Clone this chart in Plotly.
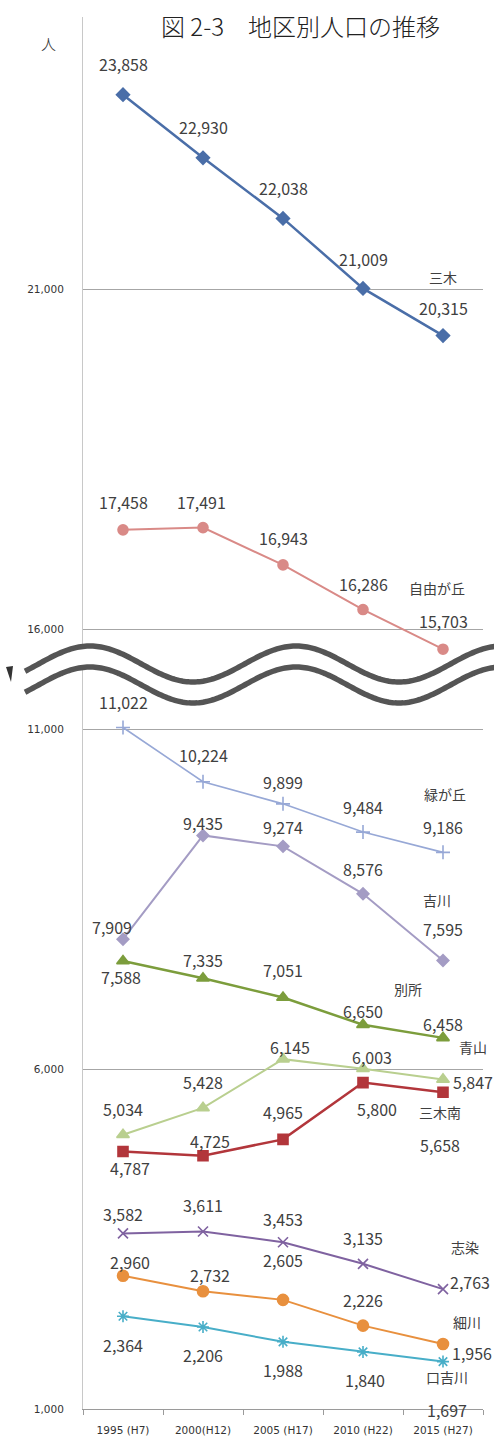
import math
import plotly.graph_objects as go

# ---------------- data ----------------
years = ["1995 (H7)", "2000(H12)", "2005 (H17)", "2010 (H22)", "2015 (H27)"]

miki = [23858, 22930, 22038, 21009, 20315]
jiyugaoka = [17458, 17491, 16943, 16286, 15703]
midorigaoka = [11022, 10224, 9899, 9484, 9186]
yokawa = [7909, 9435, 9274, 8576, 7595]
bessho = [7588, 7335, 7051, 6650, 6458]
aoyama = [5034, 5428, 6145, 6003, 5847]
mikiminami = [4787, 4725, 4965, 5800, 5658]
shijimi = [3582, 3611, 3453, 3135, 2763]
hosokawa = [2960, 2732, 2605, 2226, 1956]
kuchiyokawa = [2364, 2206, 1988, 1840, 1697]

# ---------------- styles ----------------
W, H = 494, 1436
ML, MR, MT, MB = 83, 11, 17, 27
PW, PH = W - ML - MR, H - MT - MB

series = [
    # name, values, axis, color, symbol, size, line width
    ("三木", miki, "y2", "#4A6EA8", "diamond", 10, 2.5),
    ("自由が丘", jiyugaoka, "y2", "#D98A87", "circle", 10, 2),
    ("緑が丘", midorigaoka, "y", "#97A8D6", "cross-thin", 10, 1.6),
    ("吉川", yokawa, "y", "#A49CC4", "diamond", 9, 2),
    ("別所", bessho, "y", "#7C9D3C", "triangle-up", 11, 2.5),
    ("青山", aoyama, "y", "#B9CF8F", "triangle-up", 11, 2),
    ("三木南", mikiminami, "y", "#B2363B", "square", 10, 2.5),
    ("志染", shijimi, "y", "#7F62A0", "x-thin", 10, 2),
    ("細川", hosokawa, "y", "#E8903E", "circle", 11, 2),
    ("口吉川", kuchiyokawa, "y", "#48AEC8", "asterisk", 10, 2),
]

label_offsets = {
    "三木": [(0, 31), (0, 31), (0, 30), (0, 29), (0, 28)],
    "自由が丘": [(0, 28), (-2, 26), (0, 27), (0, 26), (0, 28)],
    "緑が丘": [(0, 26), (0, 27), (0, 22), (0, 25), (0, 25)],
    "吉川": [(-11, 12), (0, 12), (0, 19), (0, 25), (0, 32)],
    "別所": [(-2, -16), (0, 18), (0, 28), (0, 14), (0, 14)],
    "青山": [(0, 26), (0, 26), (7, 12), (9, 12), (30, -3)],
    "三木南": [(7, -17), (7, 15), (0, 27), (14, -26), (-3, -53)],
    "志染": [(0, 19), (0, 26), (0, 23), (0, 26), (27, 7)],
    "細川": [(7, 14), (7, 16), (0, 40), (0, 26), (29, -9)],
    "口吉川": [(0, -29), (0, -28), (0, -28), (2, -28), (4, -48)],
}
name_offsets = {
    "三木": (0, 59), "自由が丘": (-6, 61), "緑が丘": (2, 58), "吉川": (-6, 61),
    "別所": (-35, 49), "青山": (30, 32), "三木南": (-3, -20), "志染": (22, 42),
    "細川": (24, 22), "口吉川": (4, -15),
}

LABEL_FONT = dict(family="Noto Sans CJK JP", size=16, color="#404040", weight=400)
NAME_FONT = dict(family="Noto Sans CJK JP", size=14, color="#404040", weight=400)
TICK_FONT = dict(family="DejaVu Sans", size=10.5, color="#333333")


def px(xp):
    return (xp - ML) / PW


def py(yp):
    return (MT + PH - yp) / PH


fig = go.Figure()
annotations = []
for name, vals, ax, color, sym, size, lw in series:
    fig.add_trace(go.Scatter(
        x=years, y=vals, yaxis=ax, mode="lines+markers", name=name,
        line=dict(color=color, width=lw),
        marker=dict(symbol=sym, size=size, color=color,
                    line=dict(color=color, width=1.6)),
        showlegend=False, cliponaxis=False,
    ))
    for i, v in enumerate(vals):
        dx, dy = label_offsets[name][i]
        annotations.append(dict(
            x=years[i], y=v, xref="x", yref=ax, text=f"{v:,}", showarrow=False,
            xshift=dx, yshift=dy, font=LABEL_FONT, xanchor="center", yanchor="middle",
        ))
    dx, dy = name_offsets[name]
    annotations.append(dict(
        x=years[-1], y=vals[-1], xref="x", yref=ax, text=name, showarrow=False,
        xshift=dx, yshift=dy, font=NAME_FONT, xanchor="center", yanchor="middle",
    ))

# title and unit
annotations.append(dict(x=px(159), y=py(25), xref="paper", yref="paper",
                        text="図 2-3　地区別人口の推移", showarrow=False,
                        xanchor="left", yanchor="middle",
                        font=dict(family="Noto Sans CJK JP", size=24, color="#222222",
                                  weight=300)))
annotations.append(dict(x=px(48), y=py(44), xref="paper", yref="paper",
                        text="人", showarrow=False, xanchor="center", yanchor="middle",
                        font=dict(family="Noto Sans CJK JP", size=15, color="#333333",
                                  weight=300)))

# ---------------- break symbol (wavy double line) ----------------
xs = list(range(25, 496, 2))
upper = [664 - 18 * math.cos(2 * math.pi * (x - 90) / 206) for x in xs]
lower = [u + 21 for u in upper]


def path_of(points, close=False):
    s = "M " + " L ".join(f"{px(x):.5f},{py(y):.5f}" for x, y in points)
    return s + (" Z" if close else "")


shapes = [
    dict(type="path", xref="paper", yref="paper",
         path=path_of(list(zip(xs, upper)) + list(zip(xs[::-1], lower[::-1])), True),
         fillcolor="white", line=dict(width=0), layer="above"),
    dict(type="path", xref="paper", yref="paper", path=path_of(list(zip(xs, upper))),
         line=dict(color="#555555", width=5.5), layer="above"),
    dict(type="path", xref="paper", yref="paper", path=path_of(list(zip(xs, lower))),
         line=dict(color="#555555", width=5.5), layer="above"),
    dict(type="path", xref="paper", yref="paper",
         path=path_of([(6, 667), (13, 666), (11, 682)], True),
         fillcolor="#333333", line=dict(width=0), layer="above"),
]

SCALE = 0.068  # px per person
bottom_top_px = 635
top_bottom_px = 705
y_range = [1000, 1000 + (MT + PH - bottom_top_px) / SCALE]
y2_range = [25000 - (top_bottom_px - MT) / SCALE, 25000]

common_y = dict(
    tick0=1000, dtick=5000, tickformat=",", showgrid=True, gridcolor="#a6a6a6",
    gridwidth=1, showline=True, linecolor="#c8c8c8", linewidth=1, zeroline=False,
    tickfont=TICK_FONT, ticks="", ticklabelstandoff=16, automargin=False,
)

fig.update_layout(
    width=W, height=H, autosize=False,
    margin=dict(l=ML, r=MR, t=MT, b=MB, pad=0),
    paper_bgcolor="white", plot_bgcolor="white",
    xaxis=dict(type="category", range=[-0.5, 4.5], showline=True, linecolor="#9a9a9a",
               ticks="outside", tickson="boundaries", ticklen=5, tickcolor="#9a9a9a",
               tickfont=dict(family="DejaVu Sans", size=10.5, color="#333333"),
               ticklabelstandoff=11, showgrid=False, anchor="y", automargin=False),
    yaxis=dict(domain=[0, (MT + PH - bottom_top_px) / PH], range=y_range, anchor="x",
               **common_y),
    yaxis2=dict(domain=[(MT + PH - top_bottom_px) / PH, 1], range=y2_range, anchor="x",
                **common_y),
    annotations=annotations,
    shapes=shapes,
    showlegend=False,
)

fig.write_html("out.html")
